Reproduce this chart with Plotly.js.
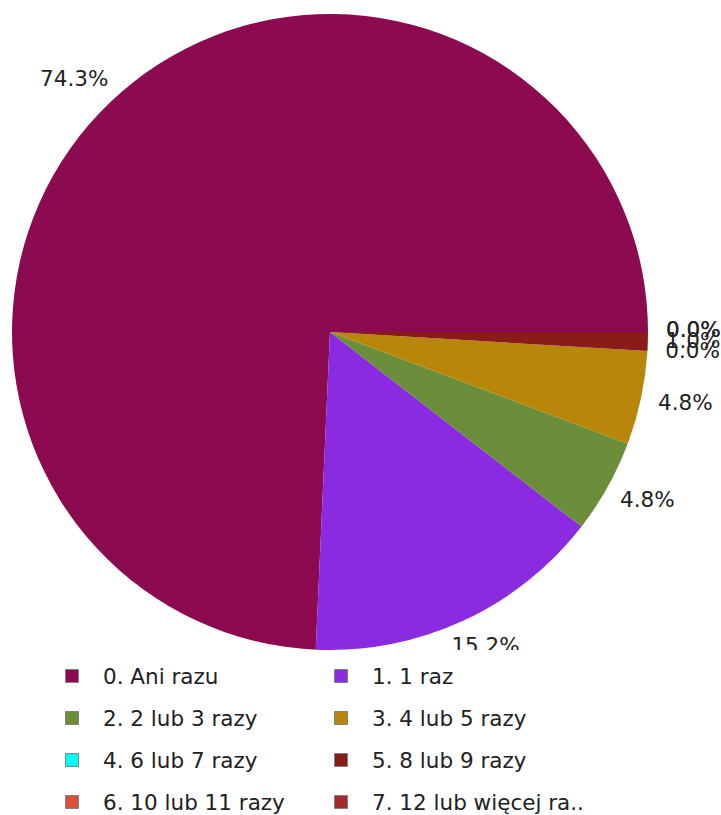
<!DOCTYPE html>
<html><head><meta charset="utf-8">
<script src="https://cdn.plot.ly/plotly-3.0.1.min.js"></script>
<style>html,body{margin:0;padding:0;background:#fff}#chart{width:721px;height:815px}</style>
</head><body><div id="chart"></div>
<script>
// ---- data ----
const categories = ['0. Ani razu', '1. 1 raz', '2. 2 lub 3 razy', '3. 4 lub 5 razy',
                    '4. 6 lub 7 razy', '5. 8 lub 9 razy', '6. 10 lub 11 razy', '7. 12 lub więcej ra..'];
const counts = [78, 16, 5, 5, 0, 1, 0, 0];
const colors = ['#8B0A50', '#8A2BE2', '#6B8E3A', '#B8860B', '#00FFFF', '#8B1A1A', '#DC5039', '#A52A2A'];

// ---- geometry / style ----
const W = 721, H = 815, CX = 330, CY = 332, R = 318, CLIP = 650;
const FONT = 'DejaVu Sans', FS = 21.5, TXT = '#222';
const total = counts.reduce((a, b) => a + b, 0);
const pct = counts.map(v => (100 * v / total).toFixed(1) + '%');

const cw = {'.': 0.318, '%': 0.95};
function textW(s) { let w = 0; for (const c of s) w += (cw[c] !== undefined ? cw[c] : 0.636); return w * FS; }
const GX = 18, GY = 30;
let cum = 0; const lx = [], ly = [];
counts.forEach((v, i) => {
  const a = 2 * Math.PI * (cum + v / 2) / total; cum += v;
  const c = Math.cos(a), s = Math.sin(a);
  lx.push((R + GX + textW(pct[i]) / 2) * c);
  ly.push((R + GY) * s);
});

const traces = [];
traces.push({
  type: 'pie', values: counts, labels: categories, marker: {colors: colors},
  sort: false, direction: 'counterclockwise', rotation: 90 - 360 * counts[0] / total,
  textinfo: 'none', hoverinfo: 'none', showlegend: false,
  domain: {x: [(CX - R) / W, (CX + R) / W], y: [1 - (CY + R) / H, 1 - (CY - R) / H]}
});
traces.push({
  type: 'scatter', mode: 'text', x: lx, y: ly, text: pct, textposition: 'middle center',
  textfont: {family: FONT, size: FS, color: TXT}, hoverinfo: 'skip', showlegend: false,
  cliponaxis: true, xaxis: 'x', yaxis: 'y'
});
categories.forEach((name, i) => {
  traces.push({
    type: 'scatter', mode: 'markers', x: [null], y: [null], name: name,
    marker: {symbol: 'square', size: 13, color: colors[i], line: {color: '#808080', width: 1}},
    legend: i === 0 ? 'legend' : 'legend' + (i + 1), hoverinfo: 'skip', xaxis: 'x', yaxis: 'y'
  });
});

const rowsY = [676, 718, 760, 802];
const colsX = [41, 310];
const layout = {
  width: W, height: H, margin: {l: 0, r: 0, t: 0, b: 0, autoexpand: false},
  paper_bgcolor: '#fff', plot_bgcolor: 'rgba(0,0,0,0)', hovermode: false,
  font: {family: FONT, size: FS, color: TXT},
  xaxis: {domain: [0, 1], range: [-CX, W - CX], visible: false, fixedrange: true},
  yaxis: {domain: [1 - CLIP / H, 1], range: [-(CLIP - CY), CY], visible: false, fixedrange: true}
};
categories.forEach((name, i) => {
  const px = colsX[i % 2], py = rowsY[Math.floor(i / 2)];
  layout[i === 0 ? 'legend' : 'legend' + (i + 1)] = {
    orientation: 'h', x: px / W, xanchor: 'left', y: 1 - py / H, yanchor: 'middle',
    itemwidth: 52, font: {family: FONT, size: FS, color: TXT},
    bgcolor: 'rgba(0,0,0,0)', borderwidth: 0, itemclick: false, itemdoubleclick: false
  };
});
Plotly.newPlot('chart', traces, layout, {displayModeBar: false, staticPlot: true});
</script></body></html>
